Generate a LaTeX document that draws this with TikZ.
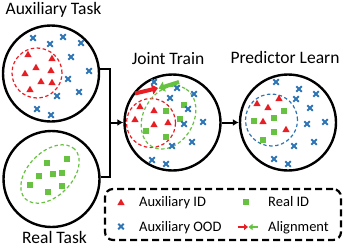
\documentclass[tikz,border=0pt]{standalone}
\usepackage{fontspec}
\setmainfont{Carlito}
\usepackage{tikz}
\usetikzlibrary{arrows.meta,positioning,shapes.geometric,shapes.misc}

\definecolor{auxred}{RGB}{232,30,37}
\definecolor{realgreen}{RGB}{102,194,64}
\definecolor{oodblue}{RGB}{46,117,182}

\begin{document}
\begin{tikzpicture}[
  x=1pt, y=-1pt,
  >={Latex[length=6pt,width=7pt]},
  taskcircle/.style={draw, circle, line width=2.4pt, minimum size=96pt, inner sep=0pt},
  ring/.style={draw, dash pattern=on 3.5pt off 2.5pt, line width=1.2pt, inner sep=0pt},
  auxid/.style={regular polygon, regular polygon sides=3, fill=auxred, minimum size=8.5pt, inner sep=0pt},
  realid/.style={rectangle, fill=realgreen, minimum size=5.5pt, inner sep=0pt},
  auxood/.style={cross out, draw=oodblue, line width=1.9pt, minimum size=3.6pt, inner sep=0pt},
  titletext/.style={font=\fontsize{17.5}{20}\selectfont, anchor=base, inner sep=0pt},
  legendtext/.style={font=\fontsize{14.5}{17}\selectfont, anchor=base west, inner sep=0pt},
  legendbox/.style={draw, rounded corners=8pt, dash pattern=on 7pt off 4pt, line width=2.2pt, minimum width=236pt, minimum height=51pt},
  arr/.style={line width=2pt},
  alignarr/.style={line width=4pt, -{Triangle[length=6pt,width=10pt]}},
  smallalign/.style={line width=2.2pt, -{Triangle[length=4pt,width=6pt]}}
]
\useasboundingbox (0,0) rectangle (344,246);

% task circles and titles
\node[taskcircle] (aux) at (51,73.5) {};
\node[taskcircle] (real) at (51.5,179) {};
\node[taskcircle] (joint) at (172.5,122.5) {};
\node[taskcircle] (pred) at (288,122.5) {};
\node[titletext] (auxtitle) at (53.5,15) {Auxiliary Task};
\node[titletext] (realtitle) at (54.5,243) {Real Task};
\node[titletext] (jointtitle) at (168,64) {Joint Train};
\node[titletext] (predtitle) at (285,63.5) {Predictor Learn};

% dashed groups
\node[ring, draw=auxred, circle, minimum size=50pt] (auxring) at (37,73) {};
\node[ring, draw=realgreen, ellipse, minimum width=70pt, minimum height=44pt, rotate=45] (realring) at (50,174) {};
\node[ring, draw=auxred, circle, minimum size=49pt] (jointred) at (151,123) {};
\node[ring, draw=realgreen, ellipse, minimum width=67pt, minimum height=50pt, rotate=60] (jointgreen) at (168.5,117.5) {};
\node[ring, draw=oodblue, circle, minimum size=52pt] (predring) at (271.5,120) {};

% auxiliary task
\foreach \p [count=\i] in {(28,55),(52,59),(36,68),(51,71),(25,74),(41,82),(52,83),(30,90)}
  \node[auxid] (aid\i) at \p {};
\foreach \p [count=\i] in {(33,38),(63,37),(81,43),(50,44),(71,57),(89,71),(68,79),(79,92),(57,96),(37,109),(51,115)}
  \node[auxood] (aood\i) at \p {};

% real task
\foreach \p [count=\i] in {(67,159),(47,163),(62,173),(53,174),(39,176),(30,185),(62,186),(48,192)}
  \node[realid] (rid\i) at \p {};

% joint train
\foreach \p [count=\i] in {(140,107),(154,111),(135,120),(154,125),(168,123)}
  \node[auxid] (jaid\i) at \p {};
\foreach \p [count=\i] in {(166,111),(184,105),(180,119),(146,131),(166,137)}
  \node[realid] (jrid\i) at \p {};
\foreach \p [count=\i] in {(154,82),(177,88),(170,98),(194,94),(188,109),(184,124),(203,122),(192,142),(172,146),(152,160),(166,164)}
  \node[auxood] (jood\i) at \p {};
\coordinate (redtail) at (135,93.5);
\coordinate (redtip) at (158,88);
\coordinate (greentail) at (179,82);
\coordinate (greentip) at (158.5,88.5);
\draw[alignarr, auxred] (redtail) -- (redtip);
\draw[alignarr, realgreen] (greentail) -- (greentip);

% predictor learn
\foreach \p [count=\i] in {(257,104),(268,108),(279,99),(263,122),(286,130)}
  \node[auxid] (paid\i) at \p {};
\foreach \p [count=\i] in {(284,111),(274,118),(254,121),(274,132),(263,140)}
  \node[realid] (prid\i) at \p {};
\foreach \p [count=\i] in {(276,82),(299,89),(316,94),(296,99),(310,108),(325,122),(307,124),(314,142),(294,146),(274,159),(288,164)}
  \node[auxood] (pood\i) at \p {};

% connectors
\coordinate (merge) at (110,122.5);
\draw[arr] (aux.5) -| (merge);
\draw[arr] (real.2) -| (merge);
\draw[arr,->] (merge) -- (joint.west);
\draw[arr,->] (joint.east) -- (pred.west);

% legend
\node[legendbox] (legend) at (223,214.5) {};
\node[auxid] (legaux) at (121,203) {};
\node[legendtext] (legauxtext) at (139,206.7) {Auxiliary ID};
\node[auxood] (legood) at (121,226.5) {};
\node[legendtext] (legoodtext) at (139,231.7) {Auxiliary OOD};
\node[realid] (legreal) at (246,202) {};
\node[legendtext] (legrealtext) at (268,206.7) {Real ID};
\coordinate (legredtail) at (237.5,227);
\coordinate (legredtip) at (248,227);
\coordinate (leggreentail) at (257.5,227);
\coordinate (leggreentip) at (248.5,227);
\draw[smallalign, auxred] (legredtail) -- (legredtip);
\draw[smallalign, realgreen] (leggreentail) -- (leggreentip);
\node[legendtext] (legaligntext) at (268,231.7) {Alignment};
\end{tikzpicture}
\end{document}
